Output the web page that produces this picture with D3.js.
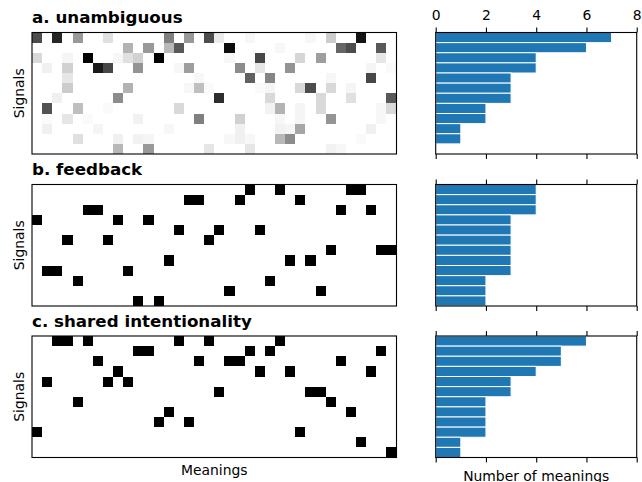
<!DOCTYPE html>
<html>
<head>
<meta charset="utf-8">
<script src="https://cdn.jsdelivr.net/npm/d3@7"></script>
<style>
body { margin: 0; background: #fff; }
text { font-family: "DejaVu Sans", sans-serif; fill: #000; }
</style>
</head>
<body>
<div id="chart"></div>
<script>
const nMeanings = 36;
const nSignals = 12;

const titles = ['a. unambiguous', 'b. feedback', 'c. shared intentionality'];

// a. unambiguous: [meaning, weight] pairs for each signal row
const unambiguous = [
    [[0,.7],[2,.85],[4,.4],[7,.12],[13,.5],[15,.4],[17,.7],[18,.08],[21,.03],[27,.03],[29,.2],[32,.92]],
    [[9,.3],[11,.4],[13,.28],[14,.65],[19,.95],[24,.03],[30,.6],[31,.7],[34,.65]],
    [[0,.15],[3,.04],[5,1],[8,.03],[9,.12],[10,.18],[12,1],[19,.03],[22,.72],[26,.16],[28,.38],[34,.1]],
    [[1,.06],[3,.18],[6,.9],[7,.72],[10,.42],[14,.03],[15,.38],[20,.45],[22,.1],[25,.42],[33,.04],[35,.02]],
    [[3,.1],[16,.03],[21,.62],[23,.48],[29,.03],[33,.72]],
    [[3,.2],[9,.3],[15,.03],[16,.25],[17,.02],[22,.02],[23,.04],[26,.15],[27,.7],[29,.15],[31,.04]],
    [[2,.06],[8,.45],[18,.82],[23,.15],[28,.15],[31,.12],[35,.65]],
    [[1,.68],[4,.25],[7,.02],[14,.15],[23,.05],[24,.3],[26,.04],[28,.15],[34,.03],[35,.15]],
    [[1,.02],[3,.1],[5,.02],[10,.05],[16,.5],[20,.18],[24,.03],[26,.04],[29,.42],[34,.03]],
    [[1,.06],[6,.04],[13,.03],[20,.06],[24,.05],[25,.04],[26,.35],[33,.06]],
    [[4,.12],[8,.06],[10,.05],[11,.04],[19,.03],[20,.06],[21,.03],[24,.28],[25,.45],[32,.02]],
    [[8,.28],[11,.4],[17,.1],[21,.1],[29,.05],[30,.03]]
];

// b. and c.: meanings used by each signal row
const feedback = [
    [21,24,31,32], [15,16,20,26], [5,6,30,33], [0,8,11],
    [14,18,22], [3,7,17], [29,34,35], [13,25,27],
    [1,2,9], [4,23], [19,28], [10,12]
];
const shared = [
    [2,3,5,14,17,24], [10,11,21,23,34], [6,16,19,20,30], [8,22,25,33],
    [1,7,9], [18,27,28], [4,29], [13,31],
    [12,15], [0,26], [32], [35]
];

const countsA = [7,6,4,4,3,3,3,2,2,1,1,0];
const countsB = [4,4,4,3,3,3,3,3,3,2,2,2];
const countsC = [6,5,5,4,3,3,2,2,2,2,1,1];
const barTicks = [0,2,4,6,8];

const panels = [
    {title: titles[0], cells: unambiguous.map(r => r.map(d => ({m: d[0], v: d[1]}))), counts: countsA},
    {title: titles[1], cells: feedback.map(r => r.map(m => ({m: m, v: 1}))), counts: countsB},
    {title: titles[2], cells: shared.map(r => r.map(m => ({m: m, v: 1}))), counts: countsC}
];

const tops = [32.5, 184.5, 336];
const panelH = 121.5;

const svg = d3.select('#chart')
    .append('svg')
    .attr('width', 642)
    .attr('height', 482);

const xCell = d3.scaleBand()
    .domain(d3.range(nMeanings))
    .range([32, 396.5]);

const xBar = d3.scaleLinear()
    .domain([0, 8])
    .range([435.7, 636.7]);

const grey = d3.scaleLinear()
    .domain([0, 1])
    .range(['#ffffff', '#000000']);

panels.forEach(function (p, i) {
    const top = tops[i];
    const yCell = d3.scaleBand()
        .domain(d3.range(nSignals))
        .range([top, top + panelH]);

    // heatmap
    const flat = [];
    p.cells.forEach(function (row, s) {
        row.forEach(function (c) { flat.push({s: s, m: c.m, v: c.v}); });
    });

    const g = svg.append('g');
    g.selectAll('rect.cell')
        .data(flat)
        .enter().append('rect')
        .attr('class', 'cell')
        .attr('x', d => xCell(d.m))
        .attr('y', d => yCell(d.s))
        .attr('width', xCell.bandwidth())
        .attr('height', yCell.bandwidth())
        .attr('shape-rendering', 'crispEdges')
        .attr('fill', d => grey(d.v));

    g.append('rect')
        .attr('x', xCell.range()[0])
        .attr('y', top)
        .attr('width', xCell.range()[1] - xCell.range()[0])
        .attr('height', panelH)
        .attr('fill', 'none')
        .attr('stroke', '#000')
        .attr('stroke-width', 1.1);

    g.append('text')
        .attr('x', 32)
        .attr('y', top - 9.5)
        .style('font-size', '16.7px')
        .style('font-weight', 'bold')
        .text(p.title);

    g.append('text')
        .attr('transform', 'translate(24,' + (top + panelH / 2) + ')rotate(-90)')
        .attr('text-anchor', 'middle')
        .style('font-size', '13.9px')
        .text('Signals');

    // bar chart of meanings per signal
    const yBar = d3.scaleBand()
        .domain(d3.range(nSignals))
        .range([top, top + panelH]);

    const b = svg.append('g');
    b.selectAll('rect.bar')
        .data(p.counts.map((v, k) => ({k: k, v: v})).filter(d => d.v > 0))
        .enter().append('rect')
        .attr('class', 'bar')
        .attr('x', xBar(0))
        .attr('y', d => yBar(d.k))
        .attr('width', d => xBar(d.v) - xBar(0))
        .attr('height', yBar.bandwidth())
        .attr('fill', '#1f77b4')
        .attr('stroke', '#fff')
        .attr('stroke-width', 1);

    b.append('rect')
        .attr('x', xBar(0))
        .attr('y', top)
        .attr('width', xBar(8) - xBar(0))
        .attr('height', panelH)
        .attr('fill', 'none')
        .attr('stroke', '#000')
        .attr('stroke-width', 1.1);

    const axT = b.append('g')
        .attr('transform', 'translate(0,' + top + ')')
        .call(d3.axisTop(xBar).tickValues(barTicks).tickSize(4.9).tickPadding(7.5)
            .tickFormat(i === 0 ? d3.format('d') : ''));
    const axB = b.append('g')
        .attr('transform', 'translate(0,' + (top + panelH) + ')')
        .call(d3.axisBottom(xBar).tickValues(barTicks).tickSize(4.9).tickFormat(''));

    [axT, axB].forEach(function (ax) {
        ax.select('.domain').remove();
        ax.selectAll('.tick line').attr('stroke', '#000').attr('stroke-width', 1.1);
        ax.selectAll('.tick text')
            .style('font-size', '13.9px')
            .style('font-family', '"DejaVu Sans", sans-serif')
            .attr('fill', '#000');
    });
});

svg.append('text')
    .attr('x', (xCell.range()[0] + xCell.range()[1]) / 2)
    .attr('y', 475)
    .attr('text-anchor', 'middle')
    .style('font-size', '13.9px')
    .text('Meanings');

svg.append('text')
    .attr('x', (xBar(0) + xBar(8)) / 2)
    .attr('y', 480.5)
    .attr('text-anchor', 'middle')
    .style('font-size', '13.9px')
    .text('Number of meanings');
</script>
</body>
</html>
